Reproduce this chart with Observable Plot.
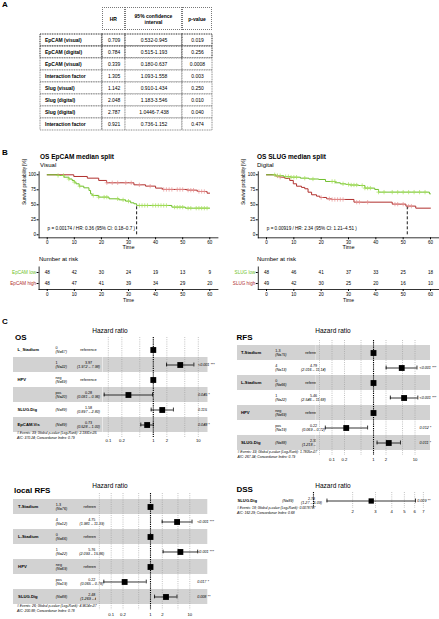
<!DOCTYPE html>
<html>
<head>
<meta charset="utf-8">
<script src="https://cdn.jsdelivr.net/npm/d3@7"></script>
<script src="https://cdn.jsdelivr.net/npm/@observablehq/plot@0.6"></script>
<style>
html,body{margin:0;padding:0;background:#fff;}
#root{position:relative;width:439px;height:619px;overflow:hidden;font-family:"Liberation Sans",Arial,sans-serif;color:#000;}
.abs{position:absolute;line-height:0;}
.abs svg{overflow:visible;display:block;}
.lbl{position:absolute;white-space:nowrap;line-height:1;}
.hcell{position:absolute;box-sizing:border-box;border:0.8px dotted #777;display:flex;align-items:center;justify-content:center;text-align:center;font-weight:bold;font-size:5px;line-height:1.2;white-space:pre-line;}
</style>
</head>
<body>
<div id="root"></div>
<script>
// ================= DATA =================
// Panel A: Cox regression table
const tableHeader = ["HR", "95% confidence\ninterval", "p-value"];
const tableRows = ["EpCAM (visual)", "EpCAM (digital)", "EpCAM (visual)", "Interaction factor", "Slug (visual)", "Slug (digital)", "Slug (digital)", "Interaction factor"];
const tableHR = ["0.709", "0.784", "0.339", "1.305", "1.142", "2.048", "2.787", "0.921"];
const tableCI = ["0.532-0.945", "0.515-1.193", "0.180-0.637", "1.093-1.558", "0.910-1.434", "1.183-3.546", "1.0446-7.438", "0.736-1.152"];
const tableP = ["0.019", "0.256", "0.0008", "0.003", "0.250", "0.010", "0.040", "0.474"];
const tableGroup = [1, 2, 3, 3, 4, 5, 6, 6];

// Panel B: Kaplan-Meier curves
const kmTicksX = [0, 10, 20, 30, 40, 50, 60];
const kmTicksY = [0, 25, 50, 75, 100];
const followUpEnd = 60;

const epLowTime = [0, 3.7, 6.2, 8, 9.2, 10, 10.6, 11.8, 13.5, 15.4, 16, 16.6, 19, 22.8, 26.5, 28.9, 30.8, 32, 33, 46, 51];
const epLowSurv = [100, 98.9, 96, 93, 90.6, 87.8, 85, 81, 78.3, 73.9, 68.3, 65.6, 62.8, 60, 58.3, 56.1, 53.3, 51.7, 48.9, 46.1, 44.4];
const epLowCens = [4, 6, 8, 10, 12, 17, 19, 21, 22, 26, 28, 30, 34, 35, 36, 37, 39, 40, 41, 42, 43, 44, 47, 48, 49, 50, 52, 53, 55, 56, 57, 58, 59];
const epHighTime = [0, 9.8, 14.8, 19, 21.9, 32, 36.3, 40, 42.5, 51.7, 55.4, 59];
const epHighSurv = [100, 97.2, 94.4, 90.6, 86.7, 83.3, 81.1, 77.8, 75.6, 74.4, 72.2, 69.4];
const epHighCens = [22, 24, 26, 29, 31, 34, 38, 43, 44, 45, 46, 48, 49, 50, 52, 53, 54, 56, 57, 58];
const epLowRisk = [48, 42, 30, 24, 19, 13, 9];
const epHighRisk = [48, 47, 41, 39, 34, 29, 20];
const epMedian = 33;

const slugLowTime = [0, 3.3, 6.3, 8.8, 12.4, 15.5, 19.1, 21.6, 25.2, 27, 29, 30.5, 33.6, 36, 39.6, 41, 59.6];
const slugLowSurv = [100, 98.5, 97, 96, 94.4, 93, 92.2, 88.9, 86.7, 85, 84, 83, 82.2, 77.8, 75.6, 71.1, 68.3];
const slugLowCens = [3, 4, 5, 7, 8, 9, 10, 11, 14, 17, 24, 25, 28, 30, 31, 32, 33, 35, 36, 37, 38, 41, 43, 46, 48, 50, 52, 54, 56, 58];
const slugHighTime = [0, 3.3, 5, 6.7, 8.5, 9.8, 11, 12.8, 14, 15.2, 16.5, 18.3, 19.5, 22, 23.8, 32, 46, 51, 54.6];
const slugHighSurv = [100, 98, 96, 94, 90.6, 85, 81, 79, 76.7, 71, 66.7, 64.4, 62.2, 60, 58.9, 54.4, 51.1, 47.8, 44.4];
const slugHighCens = [4, 5, 20, 23, 24, 25, 26, 27, 28, 33, 34, 37, 47, 48, 50, 52, 53];
const slugLowRisk = [48, 46, 41, 37, 33, 25, 18];
const slugHighRisk = [49, 42, 30, 25, 20, 16, 10];
const slugMedian = 51.5;

// Panel C: forest plots
const osVars = ["L_Stadium", "", "HPV", "", "SLUG.Dig", "EpCAM.Vis"];
const osLevels = ["0", "1", "neg", "pos", "", ""];
const osN = ["(N=67)", "(N=22)", "(N=69)", "(N=20)", "(N=89)", "(N=89)"];
const osEst = [1, 3.97, 1, 0.28, 1.58, 0.73];
const osLo = [null, 1.972, null, 0.081, 0.897, 0.528];
const osHi = [null, 7.98, null, 0.96, 2.80, 1.00];
const osCI = ["", "(1.972 – 7.98)", "", "(0.081 – 0.96)", "(0.897 – 2.80)", "(0.528 – 1.00)"];
const osP = ["", "<0.001 ***", "", "0.045 *", "0.115", "0.048 *"];
const osFooter = ["# Events: 39; Global p-value (Log-Rank): 2.1991e-05", "AIC: 370.24; Concordance Index: 0.79"];

const rfsVars = ["T-Stadium", "", "L-Stadium", "", "HPV", "", "SLUG.Dig"];
const rfsLevels = ["1-3", "4", "0", "1", "neg", "pos", ""];
const rfsN = ["(N=75)", "(N=13)", "(N=66)", "(N=22)", "(N=69)", "(N=19)", "(N=88)"];
const rfsEst = [1, 4.79, 1, 5.46, 1, 0.22, 2.33];
const rfsLo = [null, 2.016, null, 2.546, null, 0.069, 1.218];
const rfsHi = [null, 11.14, null, 11.68, null, 0.72, 4.46];
const rfsCI = ["", "(2.016 – 11.14)", "", "(2.546 – 11.68)", "", "(0.069 – 0.72)", "(1.218 – 4.46)"];
const rfsP = ["", "<0.001 ***", "", "<0.001 ***", "", "0.012 *", "0.011 *"];
const rfsFooter = ["# Events: 33; Global p-value (Log-Rank): 1.7805e-07", "AIC: 267.34; Concordance Index: 0.79"];

const lrfsVars = ["T-Stadium", "", "L-Stadium", "", "HPV", "", "SLUG.Dig"];
const lrfsLevels = ["1-3", "4", "0", "1", "neg", "pos", ""];
const lrfsN = ["(N=76)", "(N=12)", "(N=66)", "(N=22)", "(N=69)", "(N=19)", "(N=88)"];
const lrfsEst = [1, 4.75, 1, 5.76, 1, 0.22, 2.48];
const lrfsLo = [null, 1.981, null, 2.093, null, 0.065, 1.269];
const lrfsHi = [null, 11.39, null, 15.86, null, 0.78, 4.72];
const lrfsCI = ["", "(1.981 – 11.39)", "", "(2.093 – 15.86)", "", "(0.065 – 0.78)", "(1.269 – 4.72)"];
const lrfsP = ["", "<0.001 ***", "", "<0.001 ***", "", "0.017 *", "0.008 **"];
const lrfsFooter = ["# Events: 26; Global p-value (Log-Rank): 4.9614e-07", "AIC: 200.88; Concordance Index: 0.78"];

const dssVars = ["SLUG.Dig"];
const dssLevels = [""];
const dssN = ["(N=89)"];
const dssEst = [2.78];
const dssLo = [1.27];
const dssHi = [6.09];
const dssCI = ["(1.27 – 6.09)"];
const dssP = ["0.009 **"];
const dssFooter = ["# Events: 18; Global p-value (Log-Rank): 0.0078767", "AIC: 162.29; Concordance Index: 0.68"];

const hrTicksWide = [0.05, 0.1, 0.2, 0.5, 1, 2, 5, 10];
const hrTicksOS = [0.1, 0.2, 0.5, 1, 2, 5, 10];
const hrTicksDSS = [2, 3, 4, 5, 6, 7];

// ================= RENDERING =================
const FONT = '"Liberation Sans", Arial, sans-serif';
const GREEN = "#6fbf2c", GREEN_L = "#a6e05c", RED = "#b0302e", RED_L = "#e69393";
const SHADE = "#d2d2d2";
const root = document.getElementById("root");
const baseStyle = {fontFamily: FONT, overflow: "visible", background: "transparent", color: "#000"};

function put(node, left, top) {
  const d = document.createElement("div");
  d.className = "abs"; d.style.left = left + "px"; d.style.top = top + "px";
  d.appendChild(node); root.appendChild(d);
}
function label(text, x, y, o = {}) {
  const d = document.createElement("div");
  d.className = "lbl"; d.textContent = text;
  d.style.left = x + "px"; d.style.top = y + "px";
  d.style.fontSize = (o.size || 6) + "px";
  if (o.bold) d.style.fontWeight = "bold";
  if (o.italic) d.style.fontStyle = "italic";
  if (o.color) d.style.color = o.color;
  d.style.transform = o.center ? "translate(-50%,-50%)" : "translate(0,-50%)";
  root.appendChild(d);
}

// panel letters
label("A", 2, 5, {size: 8, bold: true});
label("B", 2, 153, {size: 8, bold: true});
label("C", 2, 322, {size: 8, bold: true});

// ----- Panel A table -----
const tblColW = [61.7, 23.3, 57, 30];
const tblLeft = 40, tblHeadTop = 7, tblHeadH = 23, tblRowH = 12.875;
{
  let hx = tblLeft + tblColW[0];
  tableHeader.forEach((h, i) => {
    const d = document.createElement("div");
    d.className = "hcell";
    d.style.left = hx + "px"; d.style.top = tblHeadTop + "px";
    d.style.width = tblColW[i + 1] + "px"; d.style.height = tblHeadH + "px";
    d.textContent = h; root.appendChild(d);
    hx += tblColW[i + 1];
  });
  const cols = [tableRows, tableHR, tableCI, tableP];
  const rowIdx = d3.range(tableRows.length);
  let cx = tblLeft;
  cols.forEach((vals, c) => {
    const svg = Plot.plot({
      width: tblColW[c], height: tblRowH * rowIdx.length,
      marginLeft: 0, marginRight: 0, marginTop: 0, marginBottom: 0,
      style: baseStyle,
      y: {type: "band", domain: rowIdx, padding: 0, axis: null},
      marks: [
        Plot.cell(rowIdx, {y: d => d, fill: "white", stroke: "#6a6a6a", strokeDasharray: "1,0.7",
          strokeWidth: d => (tableGroup[d] <= 2 ? 1.5 : 0.8)}),
        Plot.text(rowIdx, {y: d => d, text: d => vals[d], fontSize: 5,
          fontWeight: c === 0 ? "bold" : "normal",
          frameAnchor: c === 0 ? "left" : "middle", textAnchor: c === 0 ? "start" : "middle", dx: c === 0 ? 4.5 : 0})
      ]
    });
    put(svg, cx, tblHeadTop + tblHeadH);
    cx += tblColW[c];
  });
}

// ----- Panel B: KM curves + risk tables -----
const kmXDomain = [-3, 63], kmYDomain = [-5, 105];
function stepRows(times, surv) {
  const rows = times.map((t, i) => ({t, s: surv[i]}));
  rows.push({t: followUpEnd, s: surv[surv.length - 1]});
  return rows;
}
function survAt(times, surv, t) {
  let v = surv[0];
  for (let i = 0; i < times.length; i++) if (times[i] <= t) v = surv[i];
  return v;
}
function kmPanel(o) {
  const low = stepRows(o.lowTime, o.lowSurv);
  const high = stepRows(o.highTime, o.highSurv);
  const lowC = o.lowCens.map(t => ({t, s: survAt(o.lowTime, o.lowSurv, t)}));
  const highC = o.highCens.map(t => ({t, s: survAt(o.highTime, o.highSurv, t)}));
  const svg = Plot.plot({
    width: o.w, height: 90, marginLeft: o.ml, marginRight: o.mr, marginTop: 6.3, marginBottom: 17.7,
    style: baseStyle,
    x: {domain: kmXDomain}, y: {domain: kmYDomain},
    marks: [
      Plot.frame({anchor: "left", strokeWidth: 0.8}),
      Plot.frame({anchor: "bottom", strokeWidth: 0.8}),
      Plot.axisX({ticks: kmTicksX, tickSize: 2, tickPadding: 1, fontSize: 4.5, label: null}),
      Plot.axisY({ticks: kmTicksY, tickSize: 2, tickPadding: 1, fontSize: 4.5, label: null}),
      Plot.text(["Time"], {frameAnchor: "bottom", dy: 11.2, fontSize: 5.5}),
      Plot.text(["Survival probability [%]"], {frameAnchor: "left", rotate: -90, dx: -15, fontSize: 4.5}),
      Plot.ruleX([o.median], {x: d => d, y1: 0, y2: 50, strokeDasharray: "3,2", strokeWidth: 0.9}),
      Plot.line(high, {x: "t", y: "s", curve: "step-after", stroke: RED, strokeWidth: 1}),
      Plot.line(low, {x: "t", y: "s", curve: "step-after", stroke: GREEN, strokeWidth: 1}),
      Plot.dot(highC, {x: "t", y: "s", symbol: "plus", r: 1.5, stroke: RED_L, strokeWidth: 0.7}),
      Plot.dot(lowC, {x: "t", y: "s", symbol: "plus", r: 1.5, stroke: GREEN_L, strokeWidth: 0.7}),
      Plot.text([o.pLabel], {frameAnchor: "bottom-left", dx: 8.5, dy: -8.3, textAnchor: "start", fontSize: 4.6})
    ]
  });
  put(svg, o.left, 165);
  label(o.title, o.titleX, 157, {size: 6.5, bold: true});
  label(o.subtitle, o.titleX, 165, {size: 6});
}
function riskPanel(o) {
  const groups = [o.lowName, o.highName];
  const data = kmTicksX.flatMap((t, i) => [
    {t, g: o.lowName, n: o.lowRisk[i]},
    {t, g: o.highName, n: o.highRisk[i]}
  ]);
  const colorOf = g => (g === o.lowName ? GREEN : RED);
  const svg = Plot.plot({
    width: o.w, height: 42, marginLeft: o.ml, marginRight: o.mr, marginTop: 4.5, marginBottom: 15,
    style: baseStyle,
    x: {domain: kmXDomain},
    y: {type: "point", domain: groups, padding: 0.5},
    marks: [
      Plot.frame({anchor: "left", strokeWidth: 0.8}),
      Plot.frame({anchor: "bottom", strokeWidth: 0.8}),
      Plot.axisX({ticks: kmTicksX, tickSize: 2, tickPadding: 1, fontSize: 4.5, label: null}),
      Plot.axisY({tickSize: 2, tickPadding: 1, fontSize: 4.6, label: null, fill: d => colorOf(d)}),
      Plot.text(data, {x: "t", y: "g", text: d => String(d.n), fontSize: 4.6}),
      Plot.text(["Time"], {frameAnchor: "bottom", dy: 12, fontSize: 5})
    ]
  });
  put(svg, o.left, 262);
  label("Number at risk", o.titleX, 259, {size: 6});
}

kmPanel({left: 0, w: 220, ml: 38.6, mr: 2.6, titleX: 40,
  title: "OS EpCAM median split", subtitle: "Visual",
  lowTime: epLowTime, lowSurv: epLowSurv, lowCens: epLowCens,
  highTime: epHighTime, highSurv: epHighSurv, highCens: epHighCens,
  median: epMedian, pLabel: "p = 0.00174 / HR: 0.36 (95% CI: 0.18–0.7 )"});
riskPanel({left: 0, w: 220, ml: 38.6, mr: 2.6, titleX: 39,
  lowName: "EpCAM low", highName: "EpCAM high", lowRisk: epLowRisk, highRisk: epHighRisk});

kmPanel({left: 220, w: 219, ml: 37.8, mr: 0.8, titleX: 257,
  title: "OS SLUG median split", subtitle: "Digital",
  lowTime: slugLowTime, lowSurv: slugLowSurv, lowCens: slugLowCens,
  highTime: slugHighTime, highSurv: slugHighSurv, highCens: slugHighCens,
  median: slugMedian, pLabel: "p = 0.00919 / HR: 2.34 (95% CI: 1.21–4.51 )"});
riskPanel({left: 220, w: 219, ml: 37.8, mr: 0.8, titleX: 257,
  lowName: "SLUG low", highName: "SLUG high", lowRisk: slugLowRisk, highRisk: slugHighRisk});

// ----- Panel C: forest plots -----
function forest(o) {
  const n = o.vars.length, idx = d3.range(n);
  const rowsH = n * o.rowH, H = o.ext * 2 + rowsH + o.mb;
  const yOpt = {type: "band", domain: idx, range: [o.ext, o.ext + rowsH], padding: 0, axis: null};
  const shaded = idx.filter(i => i % 2 === o.shadeParity);
  const isRef = i => o.lo[i] == null;
  const nonRef = idx.filter(i => !isRef(i));
  const refs = idx.filter(isRef);
  const withLevel = idx.filter(i => o.levels[i] !== "");
  const noLevel = idx.filter(i => o.levels[i] === "");
  const leftW = o.ciLeft - o.shadeLeft;
  const fs = 3.7;
  const textSvg = Plot.plot({
    width: leftW, height: H, marginLeft: 0, marginRight: 0, marginTop: 0, marginBottom: o.mb,
    style: baseStyle,
    y: yOpt,
    marks: [
      Plot.cell(shaded, {y: d => d, fill: SHADE}),
      Plot.text(idx, {y: d => d, text: d => o.vars[d], frameAnchor: "left", dx: o.cols[0], textAnchor: "start", fontSize: 4.2, fontWeight: "bold"}),
      Plot.text(withLevel, {y: d => d, text: d => o.levels[d], frameAnchor: "left", dx: o.cols[1], dy: -2.2, textAnchor: "start", fontSize: fs}),
      Plot.text(withLevel, {y: d => d, text: d => o.ns[d], frameAnchor: "left", dx: o.cols[1], dy: 2.2, textAnchor: "start", fontSize: fs, fontStyle: "italic"}),
      Plot.text(noLevel, {y: d => d, text: d => o.ns[d], frameAnchor: "left", dx: o.cols[1], textAnchor: "start", fontSize: fs, fontStyle: "italic"}),
      Plot.text(refs, {y: d => d, text: () => "reference", frameAnchor: "left", dx: o.cols[2], textAnchor: "middle", fontSize: 3.9}),
      Plot.text(nonRef, {y: d => d, text: d => o.est[d].toFixed(2), frameAnchor: "left", dx: o.cols[2], dy: -2.2, textAnchor: "middle", fontSize: fs}),
      Plot.text(nonRef, {y: d => d, text: d => o.ci[d], frameAnchor: "left", dx: o.cols[2], dy: 2.2, textAnchor: "middle", fontSize: fs, fontStyle: "italic"})
    ]
  });
  const ciW = o.ciRight - o.ciLeft;
  const ciSvg = Plot.plot({
    width: ciW, height: H, marginLeft: 0, marginRight: 0, marginTop: 0, marginBottom: o.mb,
    style: baseStyle,
    x: {type: "log", domain: o.xDomain, range: [0, ciW]},
    y: yOpt,
    marks: [
      Plot.cell(shaded, {y: d => d, fill: SHADE}),
      Plot.ruleX(o.ticks, {stroke: "#9a9a9a", strokeWidth: 0.6, strokeDasharray: "1,1.2"}),
      Plot.ruleX([1], {stroke: "#000", strokeWidth: 1.1, strokeDasharray: "1.2,1"}),
      Plot.ruleY(nonRef, {y: d => d, x1: d => o.lo[d], x2: d => o.hi[d], strokeWidth: 0.8}),
      Plot.tickX(nonRef, {x: d => o.lo[d], y: d => d, insetTop: o.rowH * 0.37, insetBottom: o.rowH * 0.37, strokeWidth: 0.8}),
      Plot.tickX(nonRef, {x: d => o.hi[d], y: d => d, insetTop: o.rowH * 0.37, insetBottom: o.rowH * 0.37, strokeWidth: 0.8}),
      Plot.dot(idx, {x: d => o.est[d], y: d => d, symbol: "square", r: o.r, fill: "#000", stroke: null}),
      Plot.text(idx, {y: d => d, text: d => o.p[d], frameAnchor: "right", textAnchor: "start", dx: o.pdx, fontSize: 3.7, fontStyle: "italic"}),
      Plot.axisX({ticks: o.ticks, tickSize: 0, tickPadding: o.tickPad, fontSize: 4.2, tickFormat: d => String(d), label: null})
    ]
  });
  put(textSvg, o.shadeLeft, o.rowTop - o.ext);
  put(ciSvg, o.ciLeft, o.rowTop - o.ext);
  label(o.title, o.titleX, o.titleY, {size: 8, bold: true});
  label("Hazard ratio", o.hrX, o.hrY, {size: 6.5, center: true});
  label(o.footer[0], o.footX, o.footY, {size: 3.4, italic: true});
  label(o.footer[1], o.footX, o.footY + 5, {size: 3.4, italic: true});
}

forest({title: "OS", titleX: 15, titleY: 337.5, hrX: 110, hrY: 331,
  vars: osVars, levels: osLevels, ns: osN, est: osEst, lo: osLo, hi: osHi, ci: osCI, p: osP, footer: osFooter,
  shadeParity: 1, shadeLeft: 13, ciLeft: 102.5, ciRight: 207, rowTop: 341.5, rowH: 15, ext: 5, mb: 10,
  tickPad: 1.2, cols: [4, 42, 75], pdx: -10, xDomain: [0.0782, 16.43], ticks: hrTicksOS, r: 3.3,
  footX: 17, footY: 433.5});

forest({title: "RFS", titleX: 236.5, titleY: 337.5, hrX: 333, hrY: 331,
  vars: rfsVars, levels: rfsLevels, ns: rfsN, est: rfsEst, lo: rfsLo, hi: rfsHi, ci: rfsCI, p: rfsP, footer: rfsFooter,
  shadeParity: 0, shadeLeft: 237.3, ciLeft: 316, ciRight: 430, rowTop: 345, rowH: 15, ext: 5, mb: 10,
  tickPad: 2.5, cols: [3.4, 37.7, 76], pdx: -11, xDomain: [0.0423, 23.6], ticks: hrTicksWide, r: 3.3,
  footX: 237.5, footY: 452.7});

forest({title: "local RFS", titleX: 14, titleY: 490.7, hrX: 110, hrY: 485.7,
  vars: lrfsVars, levels: lrfsLevels, ns: lrfsN, est: lrfsEst, lo: lrfsLo, hi: lrfsHi, ci: lrfsCI, p: lrfsP, footer: lrfsFooter,
  shadeParity: 0, shadeLeft: 12.7, ciLeft: 96, ciRight: 207.3, rowTop: 498, rowH: 15.25, ext: 5, mb: 10,
  tickPad: 2.5, cols: [4.6, 42.3, 78.3], pdx: -10.6, xDomain: [0.0423, 28.7], ticks: hrTicksWide, r: 3.3,
  footX: 17, footY: 606.7});

forest({title: "DSS", titleX: 236.5, titleY: 490, hrX: 333, hrY: 485.7,
  vars: dssVars, levels: dssLevels, ns: dssN, est: dssEst, lo: dssLo, hi: dssHi, ci: dssCI, p: dssP, footer: dssFooter,
  shadeParity: -1, shadeLeft: 235, ciLeft: 309, ciRight: 430, rowTop: 492.5, rowH: 15, ext: 0.5, mb: 8,
  tickPad: 1.9, cols: [2, 46.7, 76], pdx: -13.3, xDomain: [0.932, 7.94], ticks: hrTicksDSS, r: 3,
  footX: 237, footY: 509.3});
</script>
</body>
</html>
